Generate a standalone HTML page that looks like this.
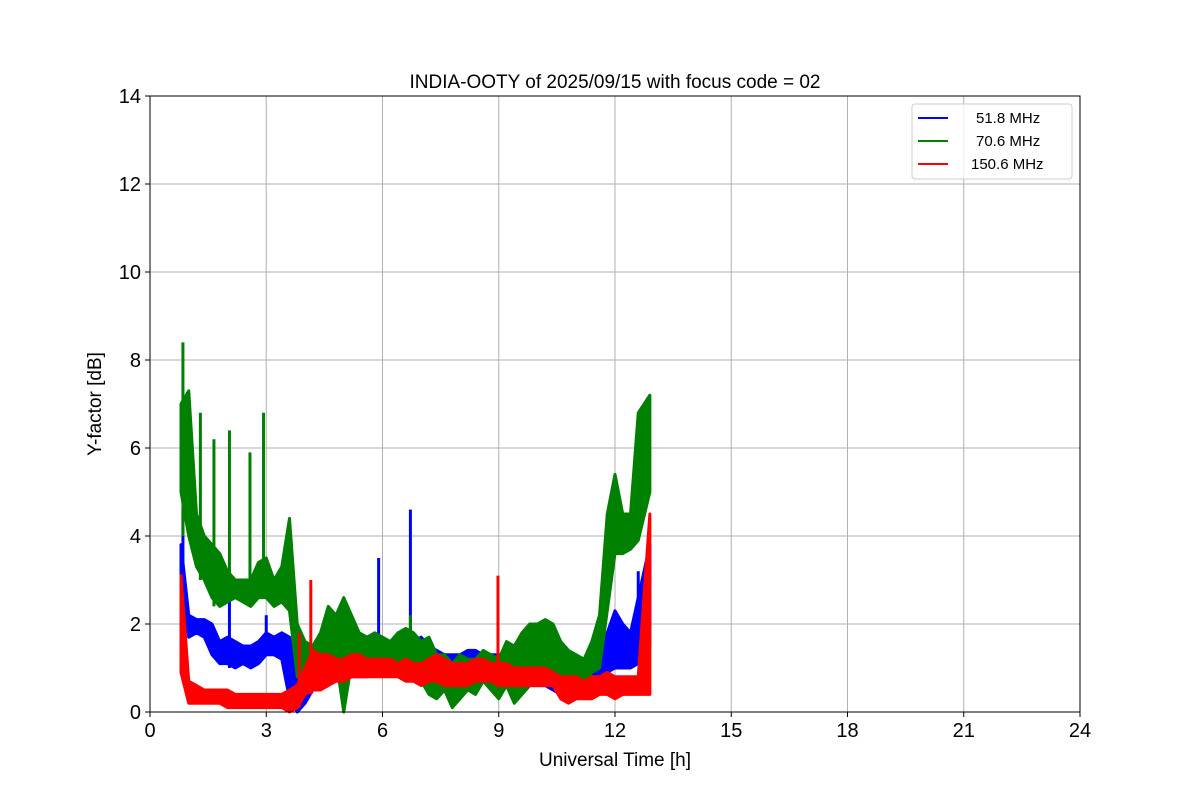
<!DOCTYPE html>
<html><head><meta charset="utf-8"><style>
body{margin:0;background:#fff;}
svg text{font-family:"Liberation Sans","DejaVu Sans",sans-serif;}
</style></head><body>
<svg id="chart" width="1200" height="800" xmlns="http://www.w3.org/2000/svg">
<rect width="1200" height="800" fill="#fff"/>
<g id="grid"></g>
<g id="plot"></g>
<rect x="150" y="96" width="930" height="616" fill="none" stroke="#000" stroke-width="1"/>
<g id="ticks"></g>
<text x="615" y="88" text-anchor="middle" font-size="19">INDIA-OOTY of 2025/09/15 with focus code = 02</text>
<text x="615" y="766" text-anchor="middle" font-size="19">Universal Time [h]</text>
<text transform="translate(101,404) rotate(-90)" text-anchor="middle" font-size="19">Y-factor [dB]</text>
<g>
<rect x="912" y="104" width="160" height="75" rx="3" fill="#fff" fill-opacity="0.8" stroke="#ccc"/>
<g><line x1="918" y1="118" x2="948" y2="118" stroke="blue" stroke-width="2"/><text x="976" y="123" font-size="15">51.8 MHz</text></g>
<g><line x1="918" y1="141" x2="948" y2="141" stroke="green" stroke-width="2"/><text x="976" y="146" font-size="15">70.6 MHz</text></g>
<g><line x1="918" y1="164" x2="948" y2="164" stroke="red" stroke-width="2"/><text x="971" y="169" font-size="15">150.6 MHz</text></g>
</g>
</svg>
<script>
const xTicks=[0,3,6,9,12,15,18,21,24];
const yTicks=[0,2,4,6,8,10,12,14];
const times=[0.8,1.0,1.2,1.4,1.6,1.8,2.0,2.2,2.4,2.6,2.8,3.0,3.2,3.4,3.6,3.8,4.0,4.2,4.4,4.6,4.8,5.0,5.2,5.4,5.6,5.8,6.0,6.2,6.4,6.6,6.8,7.0,7.2,7.4,7.6,7.8,8.0,8.2,8.4,8.6,8.8,9.0,9.2,9.4,9.6,9.8,10.0,10.2,10.4,10.6,10.8,11.0,11.2,11.4,11.6,11.8,12.0,12.2,12.4,12.6,12.9];
const blueLow=[2.8,1.7,1.8,1.7,1.3,1.1,1.1,1.0,1.1,1.0,1.1,1.3,1.3,1.2,0.3,0.0,0.2,0.5,0.6,0.7,0.7,0.8,0.8,0.8,0.8,0.9,0.9,0.9,0.8,0.8,0.8,0.8,0.8,0.7,0.7,0.7,0.6,0.7,0.7,0.7,0.7,0.6,0.6,0.5,0.6,0.6,0.6,0.6,0.5,0.4,0.4,0.4,0.5,0.5,0.6,0.9,1.0,1.0,1.0,1.1,1.5];
const blueHigh=[3.8,2.2,2.1,2.1,2.0,1.6,1.7,1.6,1.5,1.5,1.6,1.8,1.7,1.8,1.7,0.8,1.2,1.3,1.4,1.3,1.3,1.3,1.3,1.2,1.2,1.3,1.3,1.3,1.3,1.4,1.6,1.7,1.5,1.4,1.3,1.3,1.3,1.4,1.4,1.3,1.3,1.3,1.2,1.1,1.2,1.1,1.1,1.0,0.9,0.9,0.9,1.0,1.0,1.1,1.3,1.8,2.3,2.0,1.8,2.6,3.8];
const blueSpikeT=[0.85,2.05,3.0,5.9,6.72,12.6];
const blueSpikeV=[4.6,2.5,2.2,3.5,4.6,3.2];
const greenLow=[5.0,4.0,3.3,3.0,2.6,2.4,2.5,2.6,2.5,2.4,2.6,2.6,2.4,2.5,2.3,0.8,0.8,0.5,0.6,0.7,1.2,0.0,1.1,1.0,1.0,1.0,1.1,1.0,1.0,1.2,0.8,0.7,0.4,0.3,0.5,0.1,0.3,0.5,0.4,0.7,0.5,0.3,0.6,0.2,0.4,0.6,0.8,0.7,0.7,0.4,0.3,0.4,0.6,0.9,1.0,2.3,3.6,3.6,3.7,3.9,5.0];
const greenHigh=[7.0,7.3,4.5,4.0,3.8,3.6,3.2,3.0,3.0,3.0,3.4,3.5,3.0,3.3,4.4,2.0,1.6,1.5,1.8,2.4,2.2,2.6,2.2,1.8,1.7,1.8,1.7,1.6,1.8,1.9,1.8,1.6,1.7,1.3,1.3,1.1,1.3,1.2,1.2,1.4,1.3,1.2,1.6,1.5,1.8,2.0,2.0,2.1,2.0,1.6,1.4,1.3,1.2,1.6,2.2,4.5,5.4,4.5,4.5,6.8,7.2];
const greenSpikeT=[0.85,1.3,1.65,2.05,2.58,2.93,6.72];
const greenSpikeV=[8.4,6.8,6.2,6.4,5.9,6.8,2.2];
const redLow=[0.9,0.2,0.2,0.2,0.2,0.2,0.1,0.1,0.1,0.1,0.1,0.1,0.1,0.1,0.0,0.1,0.4,0.5,0.5,0.6,0.7,0.7,0.8,0.8,0.8,0.8,0.8,0.8,0.8,0.7,0.7,0.6,0.7,0.7,0.6,0.6,0.6,0.6,0.7,0.7,0.7,0.6,0.6,0.6,0.6,0.6,0.6,0.6,0.6,0.3,0.2,0.3,0.3,0.3,0.4,0.4,0.3,0.4,0.4,0.4,0.4];
const redHigh=[3.1,0.7,0.6,0.5,0.5,0.5,0.5,0.4,0.4,0.4,0.4,0.4,0.4,0.4,0.5,0.6,1.0,1.4,1.3,1.3,1.2,1.2,1.3,1.3,1.2,1.2,1.2,1.2,1.1,1.2,1.1,1.1,1.2,1.3,1.2,1.1,1.1,1.1,1.2,1.2,1.1,1.1,1.1,1.0,1.0,1.0,1.0,1.0,0.9,0.8,0.8,0.8,0.7,0.8,0.8,0.9,0.8,0.8,0.8,0.8,4.5];
const redSpikeT=[3.85,4.15,8.98];
const redSpikeV=[1.8,3.0,3.1];

const NS='http://www.w3.org/2000/svg';
const X0=150,X1=1080,Y0=712,Y1=96;
const xs=t=>X0+(t/24)*(X1-X0);
const ys=v=>Y0-(v/14)*(Y0-Y1);
function mk(tag,attrs,parent){const e=document.createElementNS(NS,tag);for(const k in attrs)e.setAttribute(k,attrs[k]);parent.appendChild(e);return e;}
const grid=document.getElementById('grid'),ticks=document.getElementById('ticks'),plot=document.getElementById('plot');
xTicks.forEach(t=>{
  const g=mk('line',{x1:xs(t),x2:xs(t),y1:Y1,y2:Y0,stroke:'#b0b0b0','stroke-width':1},grid);
  
  
  mk('line',{x1:xs(t),x2:xs(t),y1:Y0,y2:Y0+5,stroke:'#000'},ticks);
  const l=mk('text',{x:xs(t),y:Y0+25,'text-anchor':'middle','font-size':20},ticks);
  l.textContent=t;
  
  
});
yTicks.forEach(v=>{
  const g=mk('line',{x1:X0,x2:X1,y1:ys(v),y2:ys(v),stroke:'#b0b0b0','stroke-width':1},grid);
  
  
  mk('line',{x1:X0-5,x2:X0,y1:ys(v),y2:ys(v),stroke:'#000'},ticks);
  const l=mk('text',{x:X0-9,y:ys(v)+7,'text-anchor':'end','font-size':20},ticks);
  l.textContent=v;
  
  
});
function series(name,color,lo,hi,st,sv){
  const g=mk('g',{},plot);
  
  
  let pts=[];
  times.forEach((t,i)=>pts.push(xs(t)+','+ys(hi[i])));
  for(let i=times.length-1;i>=0;i--)pts.push(xs(times[i])+','+ys(lo[i]));
  mk('polygon',{points:pts.join(' '),fill:color,stroke:color,'stroke-width':3,'stroke-linejoin':'round'},g);
  st.forEach((t,i)=>{
    let j=0;while(j<times.length-1&&times[j+1]<=t)j++;
    const base=Math.min(lo[j],lo[Math.min(j+1,times.length-1)]);
    const s=mk('line',{x1:xs(t),x2:xs(t),y1:ys(base),y2:ys(sv[i]),stroke:color,'stroke-width':3},g);
    
    
  });
}
series('series-51-8-mhz','blue',blueLow,blueHigh,blueSpikeT,blueSpikeV);
series('series-70-6-mhz','green',greenLow,greenHigh,greenSpikeT,greenSpikeV);
series('series-150-6-mhz','red',redLow,redHigh,redSpikeT,redSpikeV);
</script>
</body></html>
